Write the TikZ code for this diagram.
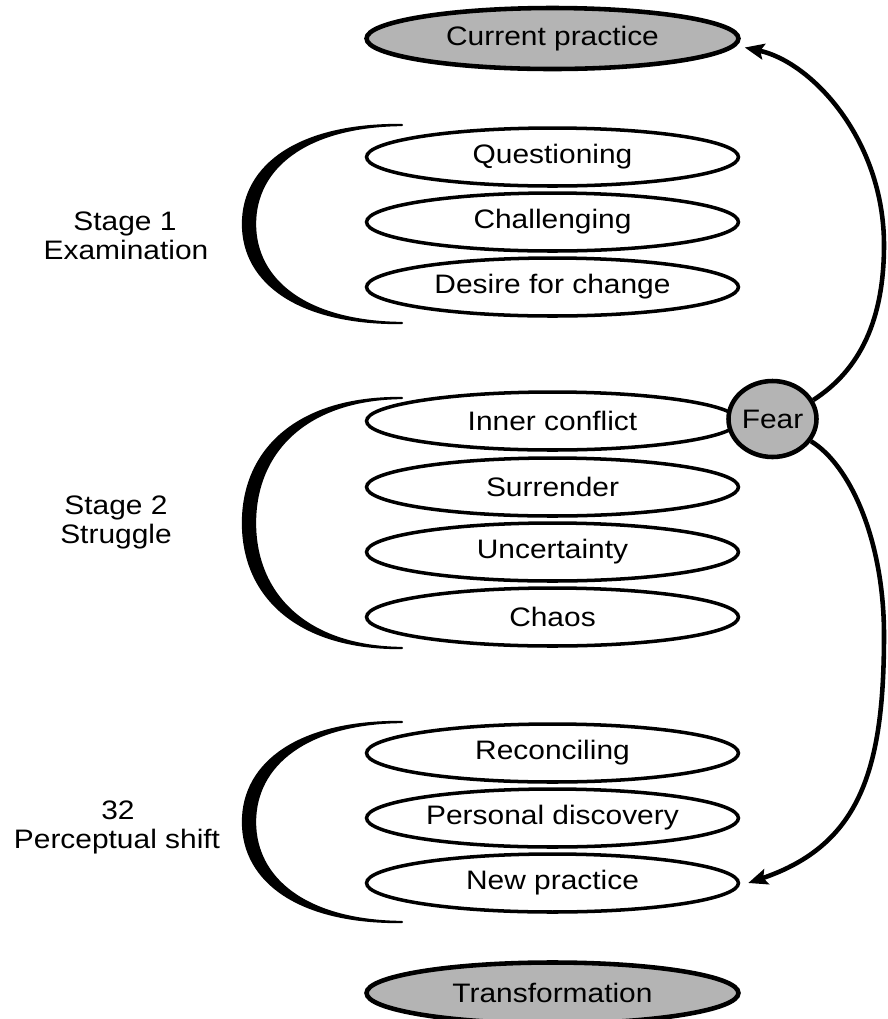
\documentclass[tikz,border=0pt]{standalone}
\usepackage{fontspec}
\setmainfont{Liberation Sans}[FakeStretch=1.12]
\usetikzlibrary{shapes.geometric,arrows.meta,calc}
\definecolor{fillgray}{RGB}{180,180,180}
\newcommand\crescent[2]{%
  \pgfmathsetmacro\crescM{(#1+#2)/2}%
  \pgfmathsetmacro\crescH{(#2-#1)/2}%
  \pgfmathsetmacro\crescA{\crescM-0.6*\crescH}%
  \pgfmathsetmacro\crescB{\crescM+0.6*\crescH}%
  \pgfmathsetmacro\crescC{\crescM-0.57*\crescH}%
  \pgfmathsetmacro\crescD{\crescM+0.57*\crescH}%
  \filldraw[bracket] (402,#1) .. controls (300,#1-1) and (243,\crescA) .. (243,\crescM)
    .. controls (243,\crescB) and (300,#2+1) .. (402,#2)
    .. controls (306,#2-1) and (255,\crescD) .. (255,\crescM)
    .. controls (255,\crescC) and (306,#1+1) .. cycle;}
\begin{document}
\begin{tikzpicture}[x=0.02cm,y=-0.02cm,
  every node/.style={font=\fontsize{15.2pt}{17pt}\selectfont},
  stagebox/.style={ellipse, draw, line width=2pt, fill=white, minimum width=7.44cm, minimum height=1.16cm, inner sep=0pt},
  endbox/.style={ellipse, draw, line width=2.6pt, fill=fillgray, minimum width=7.44cm, minimum height=1.22cm, inner sep=0pt},
  fearbox/.style={ellipse, draw, line width=2.6pt, fill=fillgray, minimum width=1.76cm, minimum height=1.52cm, inner sep=0pt},
  lbl/.style={anchor=base, inner sep=0pt},
  flow/.style={line width=2.6pt, -{Stealth[length=11pt,width=9pt,inset=2pt]}},
  bracket/.style={fill=black, draw=black, line width=1.3pt, line join=round}
]
\useasboundingbox (0,0) rectangle (887,1019);
% brackets
\crescent{125}{323}
\crescent{398}{648}
\crescent{722}{922}
% stage labels
\node[lbl] (s1a) at (125,230) {Stage 1};
\node[lbl] (s1b) at (126,259) {Examination};
\node[lbl] (s2a) at (116,514) {Stage 2};
\node[lbl] (s2b) at (116,543) {Struggle};
\node[lbl] (s3a) at (118,819) {32};
\node[lbl] (s3b) at (117,848) {Perceptual shift};
% ellipses
\node[endbox] (cp) at (552.5,38.5) {Current practice};
\node[stagebox] (q) at (552.5,157) {Questioning};
\node[stagebox] (ch) at (552.5,222) {Challenging};
\node[stagebox] (dc) at (552.5,287) {Desire for change};
\node[stagebox] (ic) at (552.5,421) {Inner conflict};
\node[stagebox] (su) at (552.5,487) {Surrender};
\node[stagebox] (un) at (552.5,552) {Uncertainty};
\node[stagebox] (ca) at (552.5,617) {Chaos};
\node[stagebox] (re) at (552.5,753) {Reconciling};
\node[stagebox] (pd) at (552.5,818) {Personal discovery};
\node[stagebox] (np) at (552.5,883) {New practice};
\node[endbox] (tr) at (552.5,993) {Transformation};
\node[fearbox] (fear) at (772.5,419) {Fear};
% arrows
\draw[flow] (fear.25) .. controls (860,370) and (884,320) .. (884,245)
  .. controls (884,140) and (812,62) .. ($(cp.east)+(4,9)$);
\draw[flow] (fear.-30) .. controls (850,465) and (884,540) .. (884,635)
  .. controls (884,770) and (860,845) .. ($(np.east)+(8,0)$);
\end{tikzpicture}
\end{document}
